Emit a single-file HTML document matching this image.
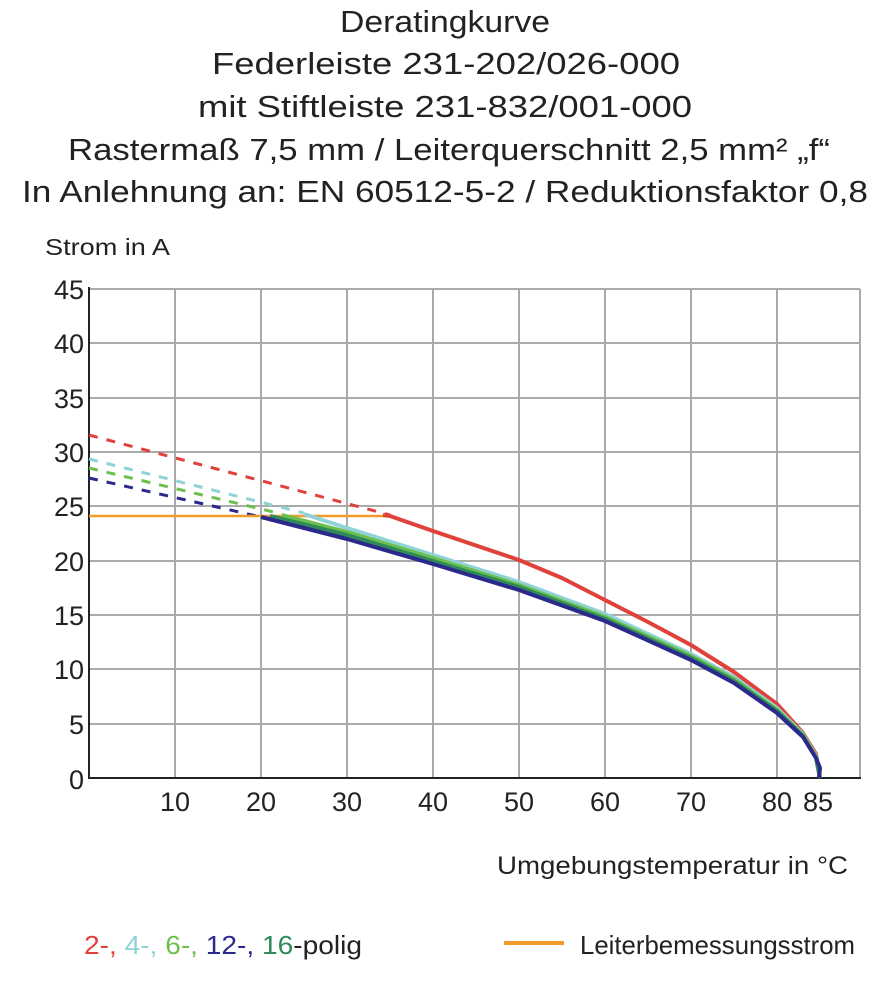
<!DOCTYPE html>
<html><head><meta charset="utf-8"><style>
body{margin:0;background:#fff;width:891px;height:1000px;overflow:hidden;font-family:"Liberation Sans",sans-serif;}
svg{display:block}
</style></head><body>
<svg width="891" height="1000" viewBox="0 0 891 1000" xmlns="http://www.w3.org/2000/svg">
<g font-family="Liberation Sans, sans-serif" fill="#222" font-size="31">
<text x="340" y="32" textLength="210" lengthAdjust="spacingAndGlyphs">Deratingkurve</text>
<text x="212" y="74" textLength="468" lengthAdjust="spacingAndGlyphs">Federleiste 231-202/026-000</text>
<text x="198" y="117" textLength="494" lengthAdjust="spacingAndGlyphs">mit Stiftleiste 231-832/001-000</text>
<text x="68" y="160" textLength="762" lengthAdjust="spacingAndGlyphs">Rastermaß 7,5 mm / Leiterquerschnitt 2,5 mm² „f“</text>
<text x="22" y="202" textLength="846" lengthAdjust="spacingAndGlyphs">In Anlehnung an: EN 60512-5-2 / Reduktionsfaktor 0,8</text>
</g>
<text x="45" y="255" font-size="23" fill="#222" textLength="125" lengthAdjust="spacingAndGlyphs">Strom in A</text>
<g stroke="#aaa" stroke-width="2" fill="none">
<line x1="89" y1="289" x2="860" y2="289"/><line x1="89" y1="343" x2="860" y2="343"/><line x1="89" y1="398" x2="860" y2="398"/><line x1="89" y1="452" x2="860" y2="452"/><line x1="89" y1="506" x2="860" y2="506"/><line x1="89" y1="561" x2="860" y2="561"/><line x1="89" y1="615" x2="860" y2="615"/><line x1="89" y1="669" x2="860" y2="669"/><line x1="89" y1="724" x2="860" y2="724"/>
<line x1="175" y1="289" x2="175" y2="778"/><line x1="261" y1="289" x2="261" y2="778"/><line x1="347" y1="289" x2="347" y2="778"/><line x1="433" y1="289" x2="433" y2="778"/><line x1="519" y1="289" x2="519" y2="778"/><line x1="605" y1="289" x2="605" y2="778"/><line x1="691" y1="289" x2="691" y2="778"/><line x1="777" y1="289" x2="777" y2="778"/><line x1="860" y1="289" x2="860" y2="778"/>
</g>
<g stroke="#222" stroke-width="2">
<line x1="89" y1="287" x2="89" y2="779"/><line x1="88" y1="778" x2="861" y2="778"/>
</g>
<g stroke="#222" stroke-width="1.2" id="ticks"></g>
<g font-size="27" fill="#222" text-anchor="end" font-family="Liberation Sans, sans-serif">
<text x="84" y="299">45</text><text x="84" y="353">40</text><text x="84" y="408">35</text><text x="84" y="462">30</text><text x="84" y="516">25</text><text x="84" y="571">20</text><text x="84" y="625">15</text><text x="84" y="679">10</text><text x="84" y="734">5</text><text x="84" y="789">0</text>
</g>
<g font-size="27" fill="#222" text-anchor="middle">
<text x="175" y="811">10</text><text x="261" y="811">20</text><text x="347" y="811">30</text><text x="433" y="811">40</text><text x="519" y="811">50</text><text x="605" y="811">60</text><text x="691" y="811">70</text><text x="777" y="811">80</text><text x="818" y="811">85</text>
</g>
<text x="497" y="874" font-size="25" fill="#222" textLength="351" lengthAdjust="spacingAndGlyphs">Umgebungstemperatur in °C</text>
<g fill="none" stroke-width="3" stroke-dasharray="9,9">
<polyline stroke="#e0413a" points="89,435 390,515"/>
<polyline stroke="#8fd3d6" points="89,459 304,513"/>
<polyline stroke="#6dbf4e" points="89,468 282,514"/>
<polyline stroke="#2b2a8c" points="89,478 261,517"/>
</g>
<polyline fill="none" stroke="#f29b2a" stroke-width="2.5" points="89,516 390,516"/>
<g fill="none" stroke-width="4" stroke-linejoin="round">
<polyline stroke="#e0413a" points="383,515 390,516 433,531 519,560 562,578 605,600 648,622 691,645 734,672 777,704 803,733 816,754 820,778"/>
<polyline stroke="#8fd3d6" points="304,514 347,528 433,555 519,582 605,614 691,654 734,677 777,708 803,734 816,756 820,778"/>
<polyline stroke="#6dbf4e" points="282,515 347,532 433,558 519,585 605,617 691,656 734,679 777,710 803,735 816,757 820,778"/>
<polyline stroke="#2f8a5a" points="270,516 347,535 433,561 519,587 605,619 691,658 734,681 777,711 803,736 816,758 820,778"/>
<polyline stroke="#2b2a8c" points="261,517 304,528 347,539 433,564 519,590 605,621 691,660 734,683 777,713 803,737 816,758 820,768 819,778"/>
</g>
<g font-size="26" font-family="Liberation Sans, sans-serif">
<text x="84" y="954" textLength="278" lengthAdjust="spacingAndGlyphs"><tspan fill="#e0413a">2-,</tspan> <tspan fill="#8fd3d6">4-,</tspan> <tspan fill="#6dbf4e">6-,</tspan> <tspan fill="#2b2a8c">12-,</tspan> <tspan fill="#2f8a5a">16</tspan><tspan fill="#222">-polig</tspan></text>
<line x1="504" y1="943" x2="564" y2="943" stroke="#f29b2a" stroke-width="4"/>
<text x="580" y="954" fill="#222" textLength="275" lengthAdjust="spacingAndGlyphs">Leiterbemessungsstrom</text>
</g>
<script>
var g=document.getElementById('ticks'),s='';
for(var a=0;a<=45;a++){var y=778-a*10.87;s+='<line x1="89" y1="'+y+'" x2="'+(a%5?93:95)+'" y2="'+y+'"/>';}
for(var t=0;t<=90;t+=2){var x=89+t*8.6;s+='<line x1="'+x+'" y1="778" x2="'+x+'" y2="774"/>';}
g.innerHTML=s;
</script>
</svg>
</body></html>
